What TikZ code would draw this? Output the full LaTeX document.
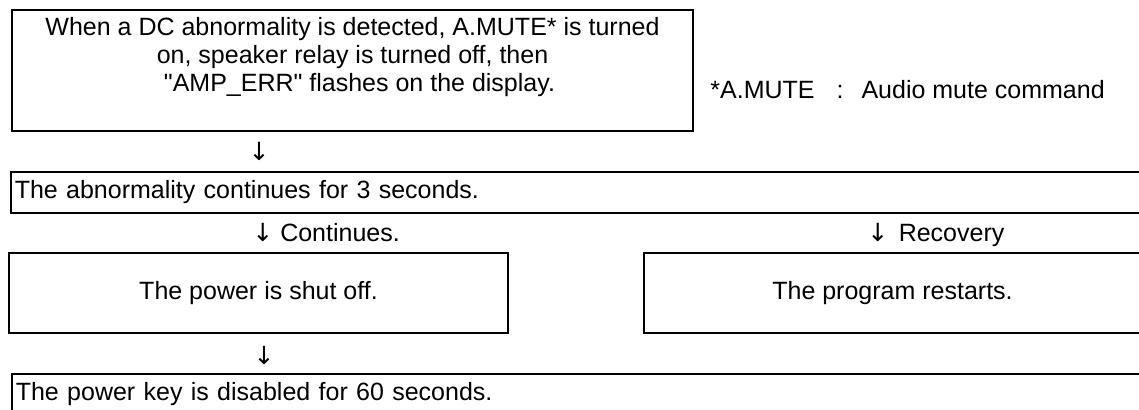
\documentclass[tikz,border=0pt]{standalone}
\usepackage{fontspec}
\newfontfamily\diagfont{Liberation Sans}
\newfontfamily\arrowfont{DejaVu Sans}
\newcommand{\downmark}{{\arrowfont ↓}}
\usetikzlibrary{positioning}

\begin{document}
\begin{tikzpicture}[
    x=0.5pt, y=-0.5pt,
    every node/.style={font=\diagfont\fontsize{12.5pt}{14pt}\selectfont},
    stepbox/.style={
        rectangle, draw=black, line width=1pt,
        minimum width=#1, minimum height=40pt, inner sep=0pt, align=center
    },
    widebox/.style={
        rectangle, draw=black, line width=0.8pt, anchor=north west,
        text width=566pt, minimum height=20.5pt, inner xsep=2pt, align=left
    },
    flow/.style={inner sep=0pt, anchor=base west},
    note/.style={inner sep=0pt, anchor=base west}
]
\useasboundingbox (0,0) rectangle (1139,410);
\begin{scope}
\clip (0,0) rectangle (1139,410);

% Detection — row 1
\node[stepbox=340.5pt, minimum height=60.5pt, text depth=15.6pt, anchor=north west] (detect) at (11,9)
    {When a DC abnormality is detected, A.MUTE* is turned\\
     on, speaker relay is turned off, then\\
     \ \ "AMP\_ERR" flashes on the display.};
\node[note] (footnote) at (710,99) {*A.MUTE\hspace{11pt}:\hspace{9pt}Audio mute command};

\node[flow, anchor=center] (down1) at (259,151) {\downmark};

% Abnormality check — row 2
\node[widebox] (abnormal) at (10,171) {The abnormality continues for 3 seconds.};

\node[flow] (cont) at (252,242) {\downmark\ Continues.};
\node[flow] (recov) at (867,242) {\downmark\hspace{5.2pt}Recovery};

% Outcomes — row 3
\node[stepbox=249.5pt, anchor=north west] (shutoff) at (8,252) {The power is shut off.};
\node[stepbox=248.5pt, right=67pt of shutoff] (restart) {The program restarts.};

\node[flow, anchor=center] (down2) at (264,355) {\downmark};

% Power key — row 4
\node[widebox] (keyoff) at (11,373) {The power key is disabled for 60 seconds.};

\end{scope}
\end{tikzpicture}
\end{document}
